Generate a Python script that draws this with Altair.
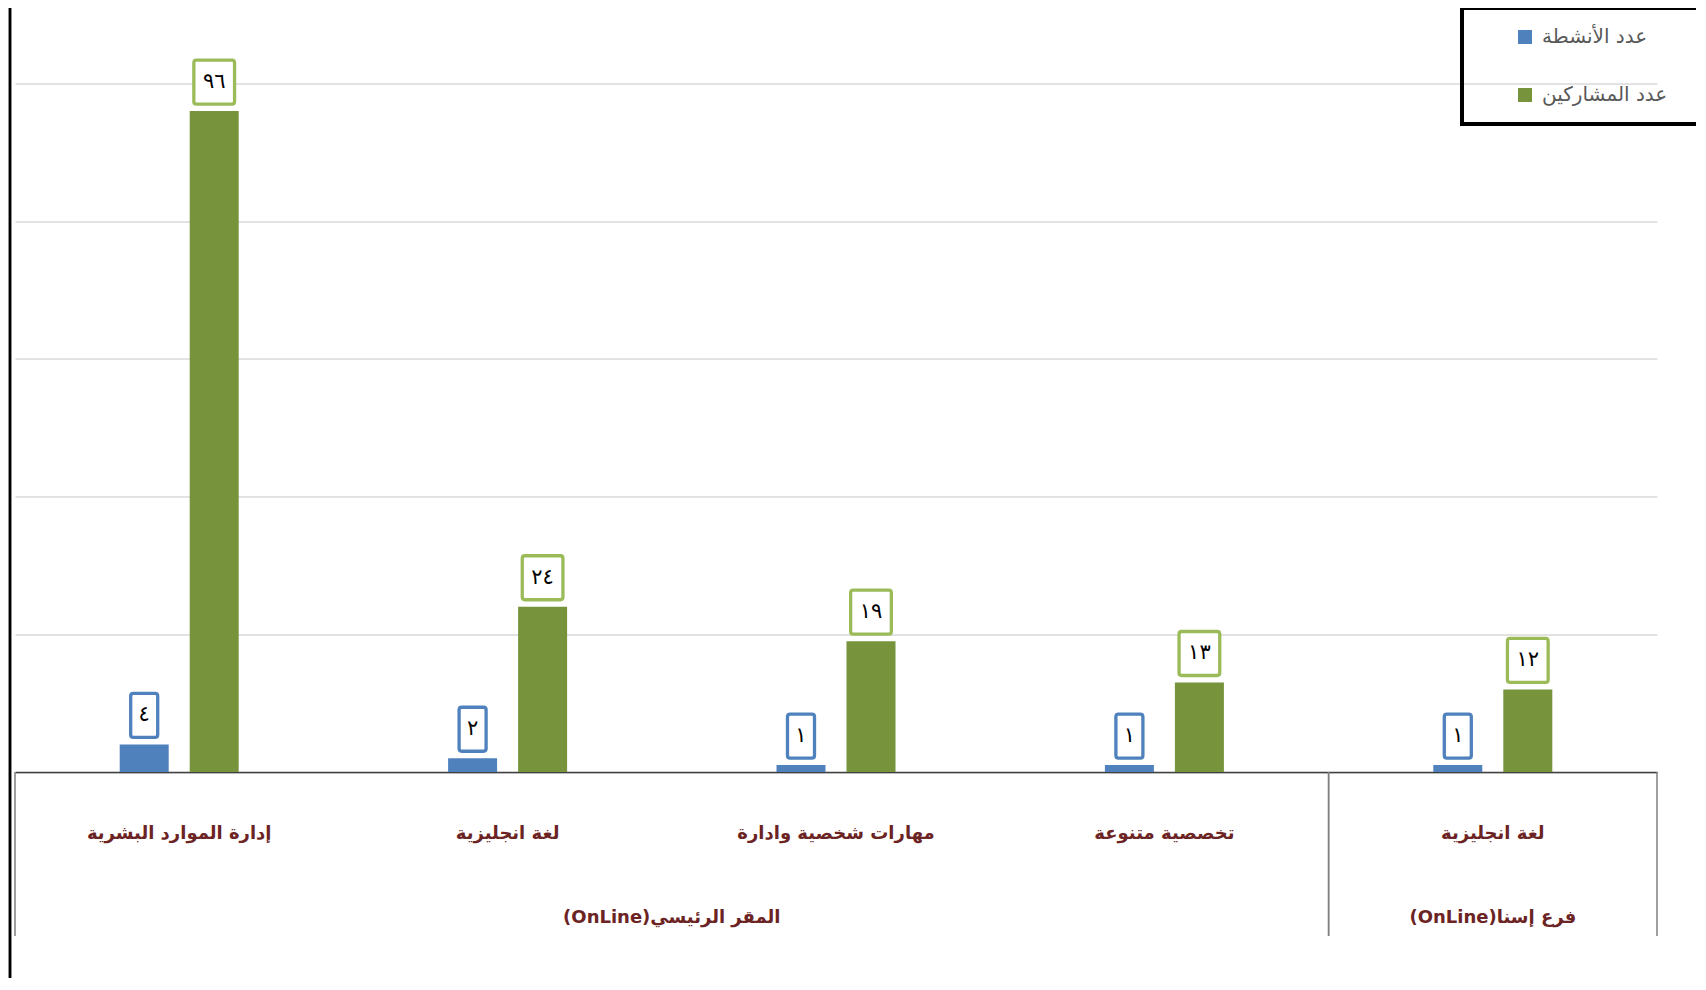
import json
import pandas as pd
import altair as alt

# ---------------- data ----------------
categories = ["إدارة الموارد البشرية", "لغة انجليزية", "مهارات شخصية وادارة", "تخصصية متنوعة", "لغة انجليزية"]
category_groups = ["المقر الرئيسي(OnLine)"] * 4 + ["فرع إسنا(OnLine)"]
series = ["عدد الأنشطة", "عدد المشاركين"]
activities = [4, 2, 1, 1, 1]
participants = [96, 24, 19, 13, 12]

bar_colors = ["#4F81BD", "#77933C"]
box_colors = ["#4F81BD", "#9BBB59"]
label_color = "#6B2323"
FONT = "DejaVu Sans"


def arabic_digits(n):
    return "".join(chr(0x0660 + int(d)) for d in str(n))


rows = []
for i, cat in enumerate(categories):
    for s, vals in zip(series, [activities, participants]):
        v = vals[i]
        rows.append({"idx": i, "category": cat, "group": category_groups[i],
                     "series": s, "value": v, "label": arabic_digits(v),
                     "ndig": str(len(str(v)))})
df = pd.DataFrame(rows)

grows = []
for g in dict.fromkeys(category_groups):
    ids = [i for i, c in enumerate(category_groups) if c == g]
    grows.append({"group": "\u202B" + g + "\u202C", "first": min(ids), "end": max(ids) + 1})
gdf = pd.DataFrame(grows)

# ---------------- layout ----------------
W = 1642
H = 688.5
SVG_W = 1688
SVG_H = 970
PAD_L = 7
PAD_T = 75.5
BAND = W / len(categories)

label_expr = json.dumps(categories, ensure_ascii=False) + "[datum.value]"


def box_path(hw, r=0.12):
    return (f"M{-hw + r},-1L{hw - r},-1Q{hw},-1 {hw},{-1 + r}L{hw},{1 - r}"
            f"Q{hw},1 {hw - r},1L{-hw + r},1Q{-hw},1 {-hw},{1 - r}"
            f"L{-hw},{-1 + r}Q{-hw},-1 {-hw + r},-1Z")


x_band = alt.X("idx:O", scale=alt.Scale(paddingInner=0, paddingOuter=0),
               axis=alt.Axis(title=None, labelExpr=label_expr, labelAngle=0,
                             ticks=False, tickSize=0, labelPadding=61,
                             labelBaseline="middle", labelFont=FONT,
                             labelFontSize=18, labelFontWeight="bold",
                             labelColor=label_color, domainColor="#404040",
                             domainWidth=1.5, labelLimit=400, grid=False))
x_off = alt.XOffset("series:N", scale=alt.Scale(domain=series, paddingInner=0.3, paddingOuter=0,
                                                range=[BAND / 2 - 59.5, BAND / 2 + 59.5]))
y_enc = alt.Y("value:Q", scale=alt.Scale(domain=[0, 100], nice=False),
              axis=alt.Axis(title=None, labels=False, ticks=False, domain=False,
                            values=[0, 20, 40, 60, 80, 100],
                            gridColor="#D9D9D9", gridWidth=1.3))

bars = alt.Chart(df).mark_bar().encode(
    x=x_band, xOffset=x_off, y=y_enc,
    color=alt.Color("series:N", scale=alt.Scale(domain=series, range=bar_colors),
                    legend=alt.Legend(title="\u2003", titleOrient="right", titleFontSize=12,
                                      titlePadding=20,
                                      orient="none", legendX=1447, legendY=-75.5,
                                      symbolType="square", symbolSize=196,
                                      symbolStrokeWidth=0, symbolOffset=34,
                                      labelFont=FONT, labelFontSize=20,
                                      labelColor="#595959", labelOffset=7,
                                      rowPadding=38, padding=19,
                                      strokeColor="black")),
)

boxes = alt.Chart(df).mark_point(size=1936, strokeWidth=3.3, fill="white",
                                 fillOpacity=1, opacity=1, yOffset=-29).encode(
    x=x_band, xOffset=x_off, y=y_enc,
    shape=alt.Shape("ndig:N", scale=alt.Scale(domain=["1", "2"],
                                              range=[box_path(0.614), box_path(0.925)]),
                    legend=None),
    stroke=alt.Stroke("series:N", scale=alt.Scale(domain=series, range=box_colors), legend=None),
)

texts = alt.Chart(df).mark_text(font=FONT, fontSize=21, color="black",
                                baseline="middle", align="center", dy=-29).encode(
    x=x_band, xOffset=x_off, y=y_enc, text="label:N",
)

main = alt.layer(bars, boxes, texts)

qx = alt.Scale(domain=[0, 5], nice=False, zero=False)

dividers = alt.Chart(gdf).transform_fold(["first", "end"], as_=["k", "pos"]).mark_rule(
    color="#7F7F7F", strokeWidth=1.5).encode(
    x=alt.X("pos:Q", scale=qx, axis=None),
    y=alt.value(H), y2=alt.value(H + 164),
)

group_text = alt.Chart(gdf).transform_calculate(mid="(datum.first + datum.end) / 2").mark_text(
    font=FONT, fontSize=18, fontWeight="bold", color=label_color, baseline="middle",
    align="center").encode(
    x=alt.X("mid:Q", scale=qx, axis=None),
    y=alt.value(H + 146), text="group:N",
)

left_line = alt.Chart(gdf).mark_rule(color="black", strokeWidth=2.5).encode(
    x=alt.value(-5), y=alt.value(-PAD_T), y2=alt.value(SVG_H - PAD_T),
)

aux = alt.layer(dividers, group_text, left_line)

chart = alt.layer(main, aux).resolve_scale(x="independent").properties(
    width=W, height=H,
    autosize=alt.AutoSizeParams(type="none"),
    padding={"left": PAD_L, "top": PAD_T, "right": SVG_W - PAD_L - W, "bottom": SVG_H - PAD_T - H},
).configure_view(stroke=None).configure_legend(strokeWidth=4)

chart.save("out.html", embed_options={"renderer": "svg", "actions": False})
